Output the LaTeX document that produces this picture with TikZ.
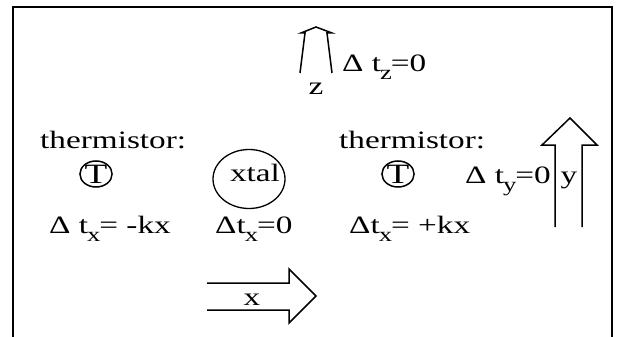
\documentclass[tikz,border=0pt]{standalone}
\usepackage{fontspec}
\setmainfont{Liberation Serif}[FakeStretch=1.33]
\usetikzlibrary{shapes.geometric}
\newcommand\lowsub[1]{\kern-1pt\raisebox{-8pt}{\fontsize{20}{20}\selectfont #1}\kern-1pt}
\tikzset{
  lbl/.style={font=\fontsize{25}{25}\selectfont, inner sep=0pt},
  tcirc/.style={draw, ellipse, font=\fontsize{28}{28}\selectfont, inner sep=0pt,
    minimum width=31pt, minimum height=26pt, line width=1.5pt},
  blockarrow/.style={line width=1.5pt, line join=miter},
}
\begin{document}
\begin{tikzpicture}[x=1pt, y=-1pt]
  \useasboundingbox (0,0) rectangle (621,337);
  % frame, open at the bottom
  \draw[line width=2.2pt] (13,337) -- (13,7) -- (612,7) -- (612,337);

  % z direction
  \draw[blockarrow] (300,73) -- (305,33) -- (301,33) -- (316,27) -- (332,33) -- (327,33) -- (332,73);
  \node[lbl, anchor=base] (labz) at (316,95) {z};
  \node[lbl, anchor=base west] (dtz) at (342,71) {Δ t\lowsub{z}=0};

  % thermistors and crystal
  \node[lbl, anchor=base west] (thermL) at (40,148) {thermistor:};
  \node[tcirc] (tL) at (96,174) {T};
  \draw[line width=1.3pt] (249,179) ellipse [x radius=36, y radius=29.5];
  \node[lbl, anchor=base] (xtal) at (255,181) {xtal};
  \node[lbl, anchor=base west] (thermR) at (339,148) {thermistor:};
  \node[tcirc] (tR) at (398,174) {T};

  % temperature differences
  \node[lbl, anchor=base west] (dtL) at (49,233) {Δ t\lowsub{x}= -kx};
  \node[lbl, anchor=base west] (dtC) at (215,233) {Δt\lowsub{x}=0};
  \node[lbl, anchor=base west] (dtR) at (349,233) {Δt\lowsub{x}= +kx};
  \node[lbl, anchor=base west] (dty) at (465,183) {Δ t\lowsub{y}=0};

  % y direction
  \draw[blockarrow] (555,227) -- (555,145) -- (542,145) -- (570,118) -- (597,145) -- (582,145) -- (582,227);
  \node[lbl, anchor=base] (laby) at (569,183) {y};

  % x direction
  \draw[blockarrow] (207,283) -- (289,283) -- (289,269) -- (316,296) -- (289,323) -- (289,310) -- (207,310);
  \node[lbl, anchor=base] (labx) at (252,305) {x};
\end{tikzpicture}
\end{document}
